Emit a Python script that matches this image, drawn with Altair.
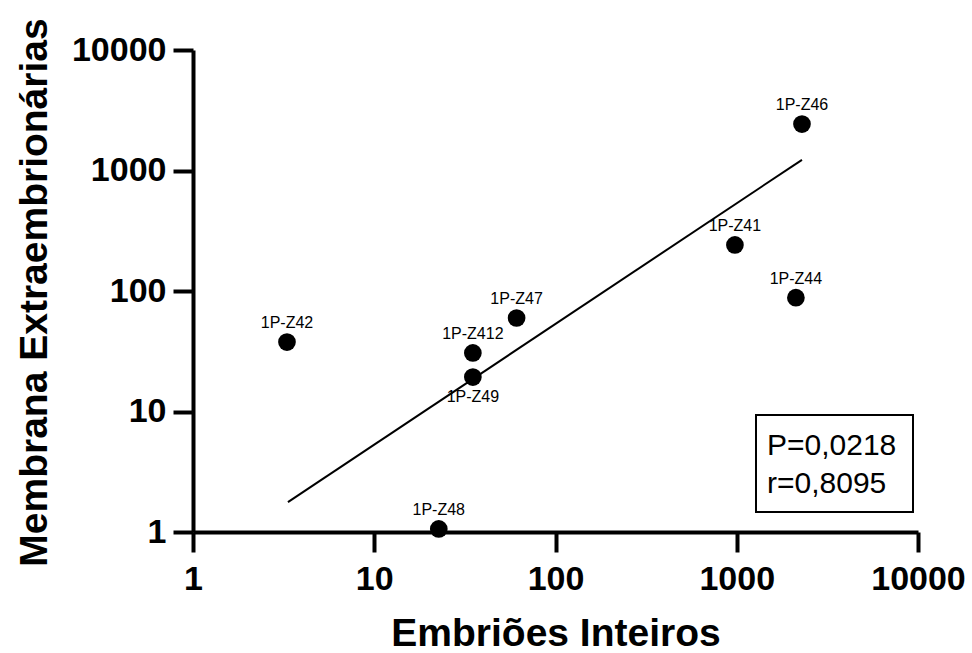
import altair as alt
import pandas as pd

# ---- data ----
sample_labels = ["1P-Z46", "1P-Z41", "1P-Z44", "1P-Z42", "1P-Z47", "1P-Z412", "1P-Z49", "1P-Z48"]
embrioes = [2290, 977, 2120, 3.3, 61, 35, 35, 22.7]
membrana = [2430, 241, 88, 37.7, 59.7, 30.6, 19.3, 1.06]
label_side = ["above", "above", "above", "above", "above", "above", "below", "above"]

fit_x = [3.34, 2290]
fit_y = [1.77, 1227]

stats_lines = ["P=0,0218", "r=0,8095"]
tick_values = [1, 10, 100, 1000, 10000]

FONT = "Liberation Sans"

pts = pd.DataFrame({"x": embrioes, "y": membrana, "label": sample_labels, "side": label_side})
fit = pd.DataFrame({"x": fit_x, "y": fit_y})

xs = alt.Scale(type="log", domain=[1, 10000], nice=False)
ys = alt.Scale(type="log", domain=[1, 10000], nice=False)

xaxis = alt.Axis(
    values=tick_values, format="d", title="Embriões Inteiros",
    domainColor="black", domainWidth=4, tickColor="black", tickWidth=4, tickSize=20,
    labelFont=FONT, labelFontSize=34, labelFontWeight="bold", labelColor="black", labelPadding=10,
    titleFont=FONT, titleFontSize=39, titleFontWeight="bold", titleColor="black",
    titleBaseline="alphabetic", titleX=362.5, titleY=113, titleAlign="center",
    grid=False, labelFlush=False, labelOverlap=False,
)
yaxis = alt.Axis(
    values=tick_values, format="d", title="Membrana Extraembrionárias",
    domainColor="black", domainWidth=4, tickColor="black", tickWidth=4, tickSize=20,
    labelFont=FONT, labelFontSize=34, labelFontWeight="bold", labelColor="black", labelPadding=7,
    titleFont=FONT, titleFontSize=39, titleFontWeight="bold", titleColor="black",
    titleBaseline="alphabetic", titleX=-147, titleY=242, titleAlign="center", titleAngle=270,
    grid=False, labelFlush=False, labelOverlap=False,
)

base = alt.Chart(pts)

points = base.mark_circle(size=314, color="black", opacity=1, clip=False).encode(
    x=alt.X("x:Q", scale=xs, axis=xaxis),
    y=alt.Y("y:Q", scale=ys, axis=yaxis),
)

labels_above = base.transform_filter(alt.datum.side == "above").mark_text(
    font=FONT, fontSize=16, color="black", align="center", baseline="alphabetic", dy=-14
).encode(x=alt.X("x:Q", scale=xs), y=alt.Y("y:Q", scale=ys), text="label:N")

labels_below = base.transform_filter(alt.datum.side == "below").mark_text(
    font=FONT, fontSize=16, color="black", align="center", baseline="alphabetic", dy=25
).encode(x=alt.X("x:Q", scale=xs), y=alt.Y("y:Q", scale=ys), text="label:N")

line = alt.Chart(fit).mark_line(color="black", strokeWidth=2).encode(
    x=alt.X("x:Q", scale=xs), y=alt.Y("y:Q", scale=ys)
)

box_df = pd.DataFrame({"t": ["\n".join(stats_lines)]})
box = alt.Chart(box_df).mark_rect(fill="white", stroke="black", strokeWidth=2).encode(
    x=alt.value(563), x2=alt.value(720), y=alt.value(365), y2=alt.value(462)
)
stats = alt.Chart(box_df).mark_text(
    font=FONT, fontSize=30, color="black", align="left", baseline="alphabetic",
    lineBreak="\n", lineHeight=38
).encode(x=alt.value(574), y=alt.value(405), text="t:N")

chart = alt.layer(line, points, labels_above, labels_below, box, stats).properties(
    width=725, height=482,
    autosize=alt.AutoSizeParams(type="none"),
    padding={"left": 193, "top": 50, "right": 54, "bottom": 121},
    background="white",
).configure_view(stroke=None)

chart.save("out.html", embed_options={"renderer": "svg", "actions": False})
